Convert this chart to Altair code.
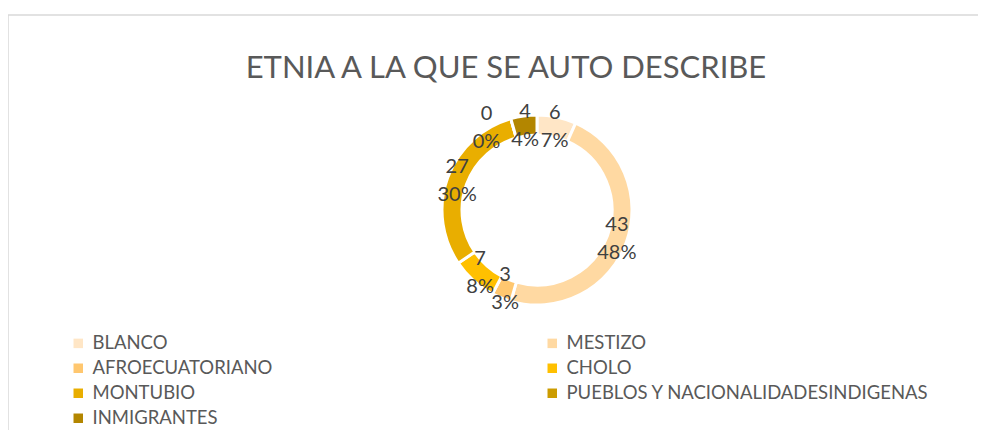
import altair as alt
import pandas as pd

categories = ["BLANCO", "MESTIZO", "AFROECUATORIANO", "CHOLO", "MONTUBIO",
              "PUEBLOS Y NACIONALIDADESINDIGENAS", "INMIGRANTES"]
values = [6, 43, 3, 7, 27, 0, 4]
percents = ["7%", "48%", "3%", "8%", "30%", "0%", "4%"]
colors = ["#FFE6C6", "#FFD9A2", "#FFC76F", "#FFC000", "#E9AE00", "#CC9C00", "#B38600"]

df = pd.DataFrame({
    "cat": categories,
    "val": values,
    "order": list(range(len(categories))),
    "label": [f"{v}\n{p}" for v, p in zip(values, percents)],
})

FONT = "Lato"
W, H = 970, 422
CX, CY = 529, 202

color = alt.Color("cat:N", scale=alt.Scale(domain=categories, range=colors),
                  sort=categories,
                  legend=alt.Legend(title=None, orient="none", legendX=61, legendY=326,
                                    columns=2, direction="horizontal",
                                    columnPadding=270, rowPadding=6,
                                    symbolType="square", symbolSize=90,
                                    labelFont=FONT, labelFontSize=18.5, labelColor="#595959",
                                    labelLimit=500, symbolStrokeWidth=0, labelOffset=5))

base = alt.Chart(df).encode(
    theta=alt.Theta("val:Q", stack=True),
    order=alt.Order("order:Q"),
)

frame = alt.Chart(pd.DataFrame({"f": [0]})).mark_rect(
    fill=None, stroke="#D9D9D9", strokeWidth=1.5).encode(
    x=alt.value(0), x2=alt.value(W + 60), y=alt.value(7), y2=alt.value(H + 40))

arc = base.mark_arc(outerRadius=95, innerRadius=75, stroke="white", strokeWidth=3).encode(
    color=color, x=alt.value(CX), y=alt.value(CY))

text = base.mark_text(radius=85, font=FONT, fontSize=20, color="#404040",
                      lineHeight=28, lineBreak="\n", baseline="middle", align="center",
                      dy=-14).encode(
    text="label:N", x=alt.value(CX), y=alt.value(CY),
    opacity=alt.condition("datum.val > 0", alt.value(1), alt.value(0)))

text0 = base.mark_text(radius=85, font=FONT, fontSize=20, color="#404040",
                       lineHeight=28, lineBreak="\n", baseline="middle", align="center",
                       dx=-27, dy=-14).encode(
    text="label:N", x=alt.value(CX), y=alt.value(CY),
    opacity=alt.condition("datum.val == 0", alt.value(1), alt.value(0)))

chart = alt.layer(frame, arc, text, text0).properties(
    width=W, height=H,
    autosize=alt.AutoSizeParams(type="none"),
    padding=0,
    title=alt.TitleParams("ETNIA A LA QUE SE AUTO DESCRIBE", font=FONT, fontSize=31,
                          fontWeight="normal", color="#595959", anchor="middle",
                          offset=-77, dx=13),
).configure_view(stroke=None)

chart.save("out.html", embed_options={"renderer": "svg", "actions": False})
